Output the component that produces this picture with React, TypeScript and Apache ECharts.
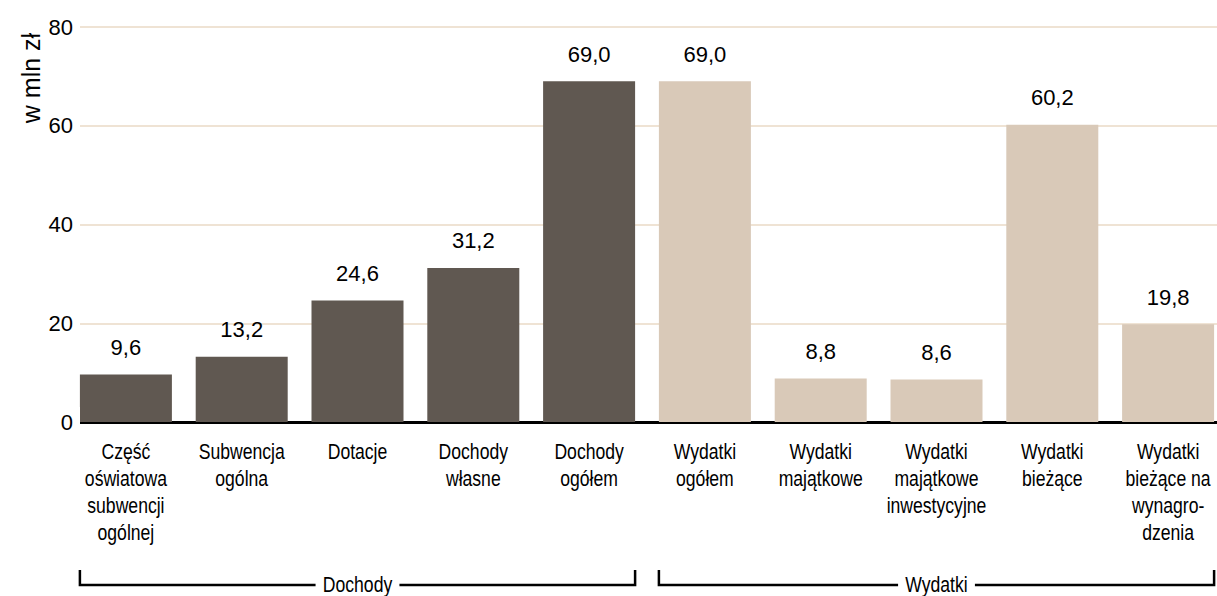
import React, { useEffect, useRef } from "react";
import * as echarts from "echarts";

const categories = [
  "Część\noświatowa\nsubwencji\nogólnej",
  "Subwencja\nogólna",
  "Dotacje",
  "Dochody\nwłasne",
  "Dochody\nogółem",
  "Wydatki\nogółem",
  "Wydatki\nmajątkowe",
  "Wydatki\nmajątkowe\ninwestycyjne",
  "Wydatki\nbieżące",
  "Wydatki\nbieżące na\nwynagro-\ndzenia",
];
const values = [9.6, 13.2, 24.6, 31.2, 69.0, 69.0, 8.8, 8.6, 60.2, 19.8];
const groups = ["Dochody", "Dochody", "Dochody", "Dochody", "Dochody", "Wydatki", "Wydatki", "Wydatki", "Wydatki", "Wydatki"];
const groupNames = ["Dochody", "Wydatki"];
const yTicks = { min: 0, max: 80, interval: 20 };

const DARK = "#605851";
const LIGHT = "#d9c9b8";
const SANS = "'Liberation Sans', Arial, sans-serif";
const BAR_W = 92;
const NARROW_SCALE = 0.8;

export default function App() {
  const ref = useRef<HTMLDivElement>(null);
  useEffect(() => {
    if (!ref.current) return;
    const chart = echarts.init(ref.current, undefined, { renderer: "svg" });
    const yAxisBase = {
      type: "value",
      min: yTicks.min,
      max: yTicks.max,
      interval: yTicks.interval,
      position: "left",
      axisLine: { show: false },
      axisTick: { show: false },
    };
    chart.setOption({
      animation: false,
      grid: { left: 68, right: 0, top: 27, bottom: 174, containLabel: false },
      xAxis: {
        type: "category",
        data: categories,
        z: 1,
        axisLine: { lineStyle: { color: "#000", width: 3 } },
        axisTick: { alignWithLabel: true, length: 6, lineStyle: { color: "#000", width: 2 } },
        axisLabel: { show: false },
      },
      yAxis: [
        {
          ...yAxisBase,
          z: 0,
          axisLabel: { show: false },
          splitLine: { lineStyle: { color: "#efe3d4", width: 2 } },
        },
        {
          ...yAxisBase,
          z: 5,
          splitLine: { show: false },
          axisLabel: {
            margin: -12,
            fontFamily: SANS,
            fontSize: 22,
            color: "#000",
            backgroundColor: "#fff",
            padding: [4, 7, 4, 4],
          },
        },
      ],
      series: [
        {
          type: "bar",
          barWidth: BAR_W,
          z: 3,
          data: values.map((v, i) => ({
            value: v,
            itemStyle: { color: groups[i] === "Dochody" ? DARK : LIGHT },
          })),
          label: {
            show: true,
            position: "top",
            distance: 16,
            fontFamily: SANS,
            fontSize: 22,
            color: "#000",
            formatter: (p: any) => Number(p.value).toFixed(1).replace(".", ","),
          },
        },
      ],
    });

    const graphics: any[] = [
      {
        type: "text",
        x: 31,
        y: 78,
        rotation: Math.PI / 2,
        style: {
          text: "w mln zł",
          fontFamily: SANS,
          fontSize: 25,
          fill: "#000",
          align: "center",
          verticalAlign: "middle",
        },
      },
    ];
    const axisY = chart.convertToPixel({ yAxisIndex: 0 }, 0) as number;
    categories.forEach((c, i) => {
      const cx = chart.convertToPixel({ xAxisIndex: 0 }, i) as number;
      graphics.push({
        type: "text",
        x: cx,
        y: axisY + 16,
        scaleX: NARROW_SCALE,
        style: {
          text: c,
          fontFamily: SANS,
          fontSize: 22,
          lineHeight: 27,
          fill: "#000",
          align: "center",
          verticalAlign: "top",
        },
      });
    });
    const yTop = 570;
    const yLine = 585;
    groupNames.forEach((g) => {
      const idx = groups.map((x, i) => (x === g ? i : -1)).filter((i) => i >= 0);
      const x0 = (chart.convertToPixel({ xAxisIndex: 0 }, idx[0]) as number) - BAR_W / 2;
      const x1 = (chart.convertToPixel({ xAxisIndex: 0 }, idx[idx.length - 1]) as number) + BAR_W / 2;
      graphics.push({
        type: "polyline",
        shape: { points: [[x0, yTop], [x0, yLine], [x1, yLine], [x1, yTop]] },
        style: { stroke: "#000", lineWidth: 2.5, fill: null },
        z: 1,
      });
      graphics.push({
        type: "text",
        x: (x0 + x1) / 2,
        y: yLine - 1,
        z: 2,
        scaleX: NARROW_SCALE,
        style: {
          text: g,
          fontFamily: SANS,
          fontSize: 22,
          fill: "#000",
          align: "center",
          verticalAlign: "middle",
          backgroundColor: "#fff",
          padding: [0, 9],
        },
      });
    });
    chart.setOption({ graphic: graphics });
    return () => chart.dispose();
  }, []);
  return (
    <div style={{ position: "fixed", left: 0, top: 0, width: 1217, height: 596, overflow: "hidden", background: "#fff" }}>
      <div ref={ref} style={{ width: 1226, height: 596 }} />
    </div>
  );
}
